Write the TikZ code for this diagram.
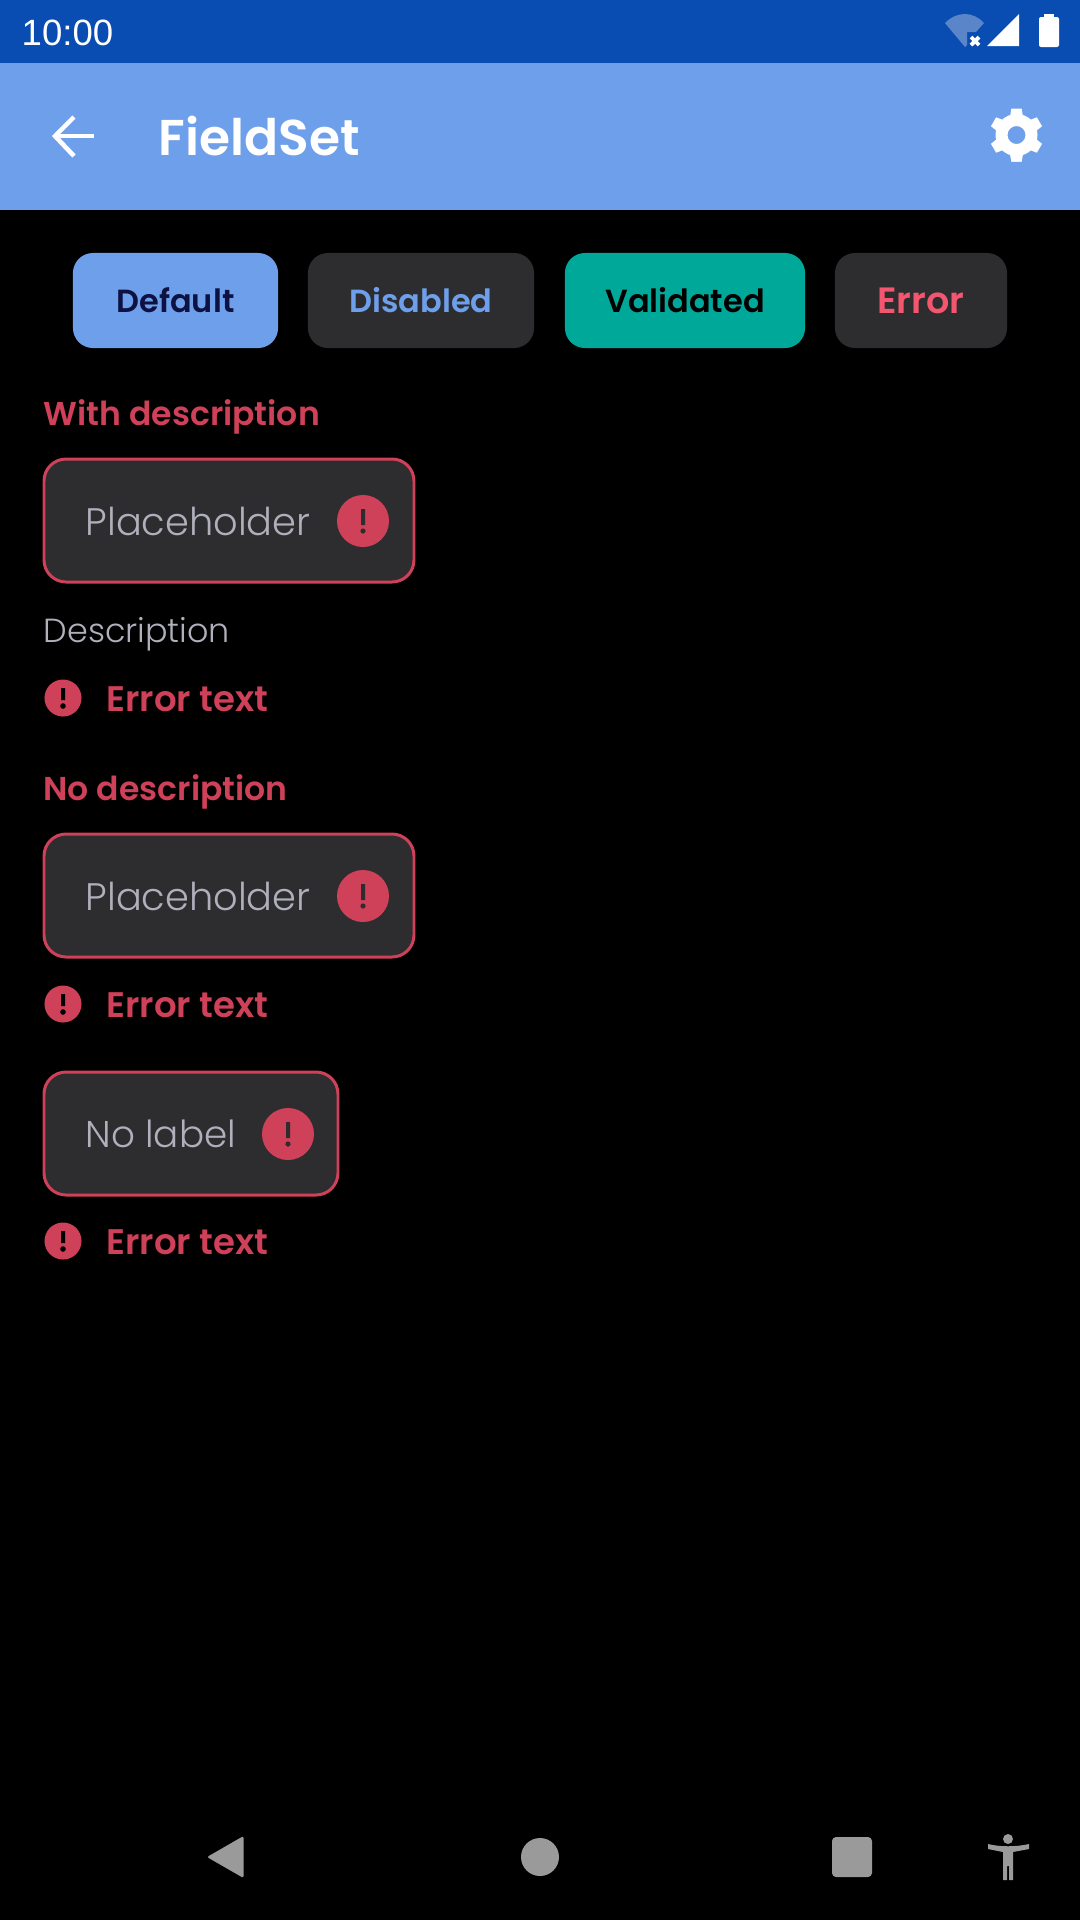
\documentclass[tikz,border=0pt]{standalone}
\usepackage{fontspec}
\setmainfont{Poppins}
\newfontfamily\timefont{Liberation Sans}
\newfontfamily\mediumfont{Poppins Medium}
\newfontfamily\boldfont{Poppins SemiBold}
\newfontfamily\lightfont{Poppins Light}
\definecolor{statusblue}{HTML}{094CB2}
\definecolor{barblue}{HTML}{6E9FEB}
\definecolor{chipgrey}{HTML}{2D2D30}
\definecolor{chipteal}{HTML}{00A899}
\definecolor{errorred}{HTML}{CF4059}
\definecolor{errorpink}{HTML}{F4566F}
\definecolor{darkink}{HTML}{0D1242}
\definecolor{hintgrey}{HTML}{B0B0BC}
\definecolor{navgrey}{HTML}{9A9A9A}
\definecolor{wififade}{HTML}{5A86C9}
\tikzset{
    chip/.style={rounded corners=2mm,minimum height=9.5mm,inner sep=0pt,font=\boldfont\fontsize{9.1}{11}\selectfont},
    heading/.style={anchor=base west,inner sep=0pt,text=errorred,font=\boldfont\fontsize{9.4}{11}\selectfont},
    errortext/.style={anchor=base west,inner sep=0pt,text=errorred,font=\boldfont\fontsize{10.1}{11}\selectfont},
    desc/.style={anchor=base west,inner sep=0pt,text=hintgrey,font=\lightfont\fontsize{9.5}{11}\selectfont},
    hint/.style={anchor=base west,inner sep=0pt,text=hintgrey,font=\lightfont\fontsize{10.9}{13}\selectfont},
    fieldbox/.style={draw=errorred,line width=0.85pt,fill=chipgrey,rounded corners=2.2mm},
    bigicon/.style={circle,fill=errorred,minimum size=5.2mm,inner sep=0pt},
    smallicon/.style={circle,fill=errorred,minimum size=3.7mm,inner sep=0pt},
}
\begin{document}
\begin{tikzpicture}[x=0.01cm,y=-0.01cm]
    \useasboundingbox (0,0) rectangle (1080,1920);
    \fill[black] (0,0) rectangle (1080,1920);
    \fill[statusblue] (0,0) rectangle (1080,63);
    \fill[barblue] (0,63) rectangle (1080,210);

    \node[anchor=base west,inner sep=0pt,text=white,font=\timefont\fontsize{10.4}{12}\selectfont] (clock) at (21,45) {10:00};
    \fill[wififade] (965,47) -- (945,23) .. controls (957,11) and (973,11) .. (984,23) -- (976,32) -- (967,32) -- (967,45) -- cycle;
    \draw[white,line width=1.1pt] (971,37) -- (979,45) (979,37) -- (971,45);
    \fill[white] (987,46) -- (1019,14) -- (1019,46) -- cycle;
    \fill[white,rounded corners=0.2mm] (1039,17) rectangle (1059,47);
    \fill[white] (1044,14) rectangle (1054,18);

    \draw[white,line width=1.3pt] (94,136) -- (55,136);
    \draw[white,line width=1.3pt,line join=miter] (74,117) -- (55,136) -- (74,156);
    \node[anchor=base west,inner sep=0pt,text=white,font=\boldfont\fontsize{14.3}{16}\selectfont] (title) at (158,155) {FieldSet};
    \foreach \a in {90,150,...,450} {
        \fill[white,shift={(1016.5,135)}] (\a-20:19) -- (\a-11:27) -- (\a+11:27) -- (\a+20:19) -- cycle;
    }
    \fill[white,even odd rule] (1016.5,135) circle (21) (1016.5,135) circle (9);

    \node[chip,fill=barblue,text=darkink,minimum width=20.5mm] (chipdefault) at (175.5,300.5) {Default};
    \node[chip,fill=chipgrey,text=barblue,minimum width=22.6mm] (chipdisabled) at (421,300.5) {Disabled};
    \node[chip,fill=chipteal,text=black,minimum width=24mm] (chipvalidated) at (685,300.5) {Validated};
    \node[chip,fill=chipgrey,text=errorpink,minimum width=17.2mm,font=\boldfont\fontsize{10.4}{11}\selectfont] (chiperror) at (921,300.5) {Error};

    \node[heading] (headwith) at (43,425) {With description};
    \draw[fieldbox] (44,459) rectangle (414,582);
    \node[hint] (placeone) at (85,535) {Placeholder};
    \node[bigicon] (iconone) at (363,521) {};
    \fill[chipgrey] (361,509) rectangle (365,525) (363,531) circle (2.6);
    \node[desc] (descone) at (43,642) {Description};
    \node[smallicon] (erroriconone) at (63,698) {};
    \fill[black] (61,688) rectangle (65,700) (63,706) circle (2.8);
    \node[errortext] (errorone) at (106,711) {Error text};

    \node[heading] (headno) at (43,800) {No description};
    \draw[fieldbox] (44,834) rectangle (414,957);
    \node[hint] (placetwo) at (85,910) {Placeholder};
    \node[bigicon] (icontwo) at (363,896) {};
    \fill[chipgrey] (361,884) rectangle (365,900) (363,906) circle (2.6);
    \node[smallicon] (erroricontwo) at (63,1004) {};
    \fill[black] (61,994) rectangle (65,1006) (63,1012) circle (2.8);
    \node[errortext] (errortwo) at (106,1017) {Error text};

    \draw[fieldbox] (44,1072) rectangle (338,1195);
    \node[hint,font=\lightfont\fontsize{10.6}{13}\selectfont] (placethree) at (85,1147) {No label};
    \node[bigicon] (iconthree) at (288,1134) {};
    \fill[chipgrey] (286,1122) rectangle (290,1138) (288,1144) circle (2.6);
    \node[smallicon] (erroriconthree) at (63,1241) {};
    \fill[black] (61,1231) rectangle (65,1243) (63,1249) circle (2.8);
    \node[errortext] (errorthree) at (106,1254) {Error text};

    \fill[navgrey,rounded corners=0.2mm] (207,1857) -- (243.5,1836) -- (243.5,1878) -- cycle;
    \fill[navgrey] (540,1857) circle (19);
    \fill[navgrey,rounded corners=0.4mm] (832,1837) rectangle (872,1877);
    \fill[navgrey] (1008,1839) circle (5);
    \fill[navgrey] (988,1844) .. controls (1000,1847) and (1016,1847) .. (1029,1844) -- (1029,1849) -- (1013,1852) -- (1013,1880) -- (1009,1880) -- (1009,1866) -- (1007,1866) -- (1007,1880) -- (1003,1880) -- (1003,1852) -- (988,1849) -- cycle;
\end{tikzpicture}
\end{document}
